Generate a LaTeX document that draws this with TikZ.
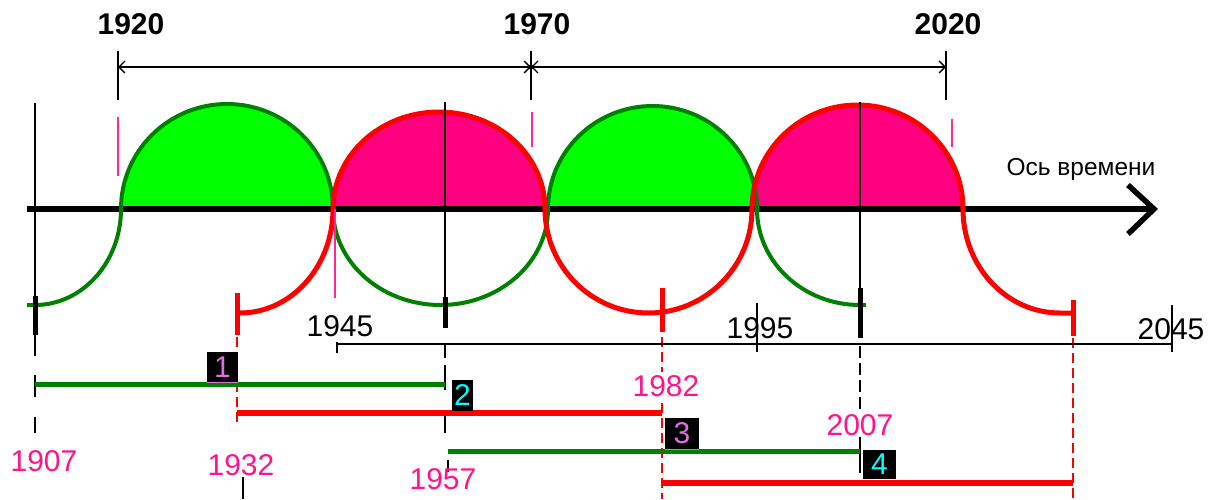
\documentclass[tikz,border=0pt]{standalone}
\usepackage{fontspec}
\setmainfont{Liberation Sans}
\usetikzlibrary{arrows.meta}
\definecolor{gline}{RGB}{0,128,0}
\definecolor{gfill}{RGB}{0,255,0}
\definecolor{rline}{RGB}{255,0,0}
\definecolor{rfill}{RGB}{255,0,128}
\definecolor{pinktxt}{RGB}{255,20,140}
\definecolor{pinktick}{RGB}{255,40,150}
\definecolor{numviolet}{RGB}{225,110,225}
\definecolor{numcyan}{RGB}{0,255,255}
\begin{document}
\begin{tikzpicture}[x=1pt,y=-1pt,
  thin line/.style={black,line width=1.5},
  thick tick/.style={black,line width=5},
  red tick/.style={rline,line width=5},
  red dash/.style={rline,line width=1.5,dash pattern=on 10pt off 5pt},
  pink tick/.style={pinktick,line width=1.4},
  greenbar/.style={gline,line width=5},
  redbar/.style={rline,line width=6},
  toplabel/.style={font=\fontsize{30}{30}\selectfont\bfseries,inner sep=0pt},
  midlabel/.style={font=\fontsize{30}{30}\selectfont,inner sep=0pt},
  yearlabel/.style={font=\fontsize{30}{30}\selectfont,text=pinktxt,inner sep=0pt},
  numbox/.style={fill=black,inner sep=0pt,font=\fontsize{30}{30}\selectfont,minimum height=31pt},
  dim/.style={black,line width=1.4,{Straight Barb[length=6pt,width=12pt]}-{Straight Barb[length=6pt,width=12pt]}}
]
\useasboundingbox (0,0) rectangle (1224,499);
\fill[white] (0,0) rectangle (1224,499);

% filled humps
\fill[gfill] (121,209) arc[start angle=180,end angle=360,x radius=106,y radius=105] -- cycle;
\fill[rfill] (333,209) arc[start angle=180,end angle=360,x radius=106,y radius=97] -- cycle;
\fill[gfill] (548,209) arc[start angle=180,end angle=360,x radius=104.5,y radius=103] -- cycle;
\fill[rfill] (752,209) arc[start angle=180,end angle=360,x radius=105.5,y radius=104] -- cycle;

% time axis
\coordinate (axL) at (27,209);
\coordinate (axR) at (1154,209);
\draw[line width=5.5] (axL) -- (axR);
\draw[line width=5.5,line join=miter] (1128,185) -- (axR) -- (1128,234);
\node[font=\fontsize{24.5}{24.5}\selectfont,anchor=base,inner sep=0pt] (axname) at (1081,175) {Ось времени};

% curves
\draw[gline,line width=4] (27,305) -- (35,305)
  arc[start angle=90,end angle=0,x radius=86,y radius=96]
  arc[start angle=180,end angle=360,x radius=106,y radius=105]
  arc[start angle=180,end angle=0,x radius=107.5,y radius=96]
  arc[start angle=180,end angle=360,x radius=104.5,y radius=103]
  arc[start angle=180,end angle=90,x radius=103,y radius=96] -- (866,305);
\draw[rline,line width=5] (238,313) -- (240,313)
  arc[start angle=90,end angle=0,x radius=93,y radius=104]
  arc[start angle=180,end angle=360,x radius=106,y radius=97]
  arc[start angle=180,end angle=0,x radius=103.5,y radius=104]
  arc[start angle=180,end angle=360,x radius=105.5,y radius=104]
  arc[start angle=180,end angle=90,x radius=97,y radius=104] -- (1073,313);

% top dimension line
\draw[thin line] (118,51) -- (118,100);
\draw[thin line] (531,51) -- (531,100);
\draw[thin line] (946,51) -- (946,100);
\coordinate (d1920) at (118,67);
\coordinate (d1970) at (531,67);
\coordinate (d2020) at (946,67);
\draw[dim] (d1920) -- (d1970);
\draw[dim] (d1970) -- (d2020);
\fill (d1970) circle (2.5);
\node[toplabel] (t1920) at (131,24) {1920};
\node[toplabel] (t1970) at (537,24) {1970};
\node[toplabel] (t2020) at (948,24) {2020};

% pink ticks
\draw[pink tick] (118,117) -- (118,176);
\draw[pink tick] (532,112) -- (532,147);
\draw[pink tick] (952,119) -- (952,147);
\draw[pink tick] (335,209) -- (335,298);

% vertical black lines
\draw[thin line] (35,103) -- (35,356);
\draw[thin line] (445,102) -- (445,297);
\draw[thin line] (860,102) -- (860,290);
\draw[thick tick] (35,296) -- (35,335);
\draw[thick tick] (445,297) -- (445,328);
\draw[thick tick] (860,288) -- (860,338);
\draw[red tick] (237,293) -- (237,335);
\draw[red tick] (662,288) -- (662,332);
\draw[red tick] (1073,300) -- (1073,336);

% dashed continuations
\draw[thin line] (35,375) -- (35,397);
\draw[thin line] (35,417) -- (35,433);
\draw[thin line] (445,345) -- (445,358);
\draw[thin line] (445,365) -- (445,390);
\draw[thin line] (445,412) -- (445,433);
\draw[thin line] (448,460) -- (448,472);
\draw[thin line,dash pattern=on 12pt off 5pt] (860,346) -- (860,410);
\draw[thin line] (860,437) -- (860,473);
\draw[thin line] (243,477) -- (243,499);
\draw[red dash] (237,337) -- (237,423);
\draw[red dash] (662,337) -- (662,372);
\draw[red dash] (662,403) -- (662,499);
\draw[red dash] (1073,338) -- (1073,499);

% middle scale
\draw[thin line] (337,344) -- (1172,344);
\draw[thin line] (337,342) -- (337,353);
\draw[thin line] (757,303) -- (757,352);
\draw[thin line] (1172,305) -- (1172,352);
\node[midlabel] (m1945) at (340,326) {1945};
\node[midlabel] (m1995) at (760,328) {1995};
\node[midlabel] (m2045) at (1171,329) {2045};

% generation bars
\draw[greenbar] (35,384) -- (445,384);
\draw[redbar] (237,413) -- (662,413);
\draw[greenbar] (448,451) -- (860,451);
\draw[redbar] (662,483) -- (1073,483);

% number boxes
\node[numbox,minimum width=31pt,text=numviolet] (n1) at (222.5,367) {1};
\draw[numviolet,line width=1.2] (n1.south west) -- (n1.south east);
\node[numbox,minimum width=21pt,text=numcyan] (n2) at (462.5,395) {2};
\node[numbox,minimum width=34pt,text=numviolet] (n3) at (682,433.5) {3};
\draw[numviolet,line width=1.2] (n3.south west) -- (n3.south east);
\node[numbox,minimum width=33pt,minimum height=29pt,text=numcyan] (n4) at (879.5,464.5) {4};

% year labels
\node[yearlabel] (y1907) at (44,461) {1907};
\node[yearlabel] (y1932) at (241,465) {1932};
\node[yearlabel] (y1957) at (443,479) {1957};
\node[yearlabel] (y1982) at (666,386) {1982};
\node[yearlabel] (y2007) at (860,425) {2007};
\end{tikzpicture}
\end{document}
